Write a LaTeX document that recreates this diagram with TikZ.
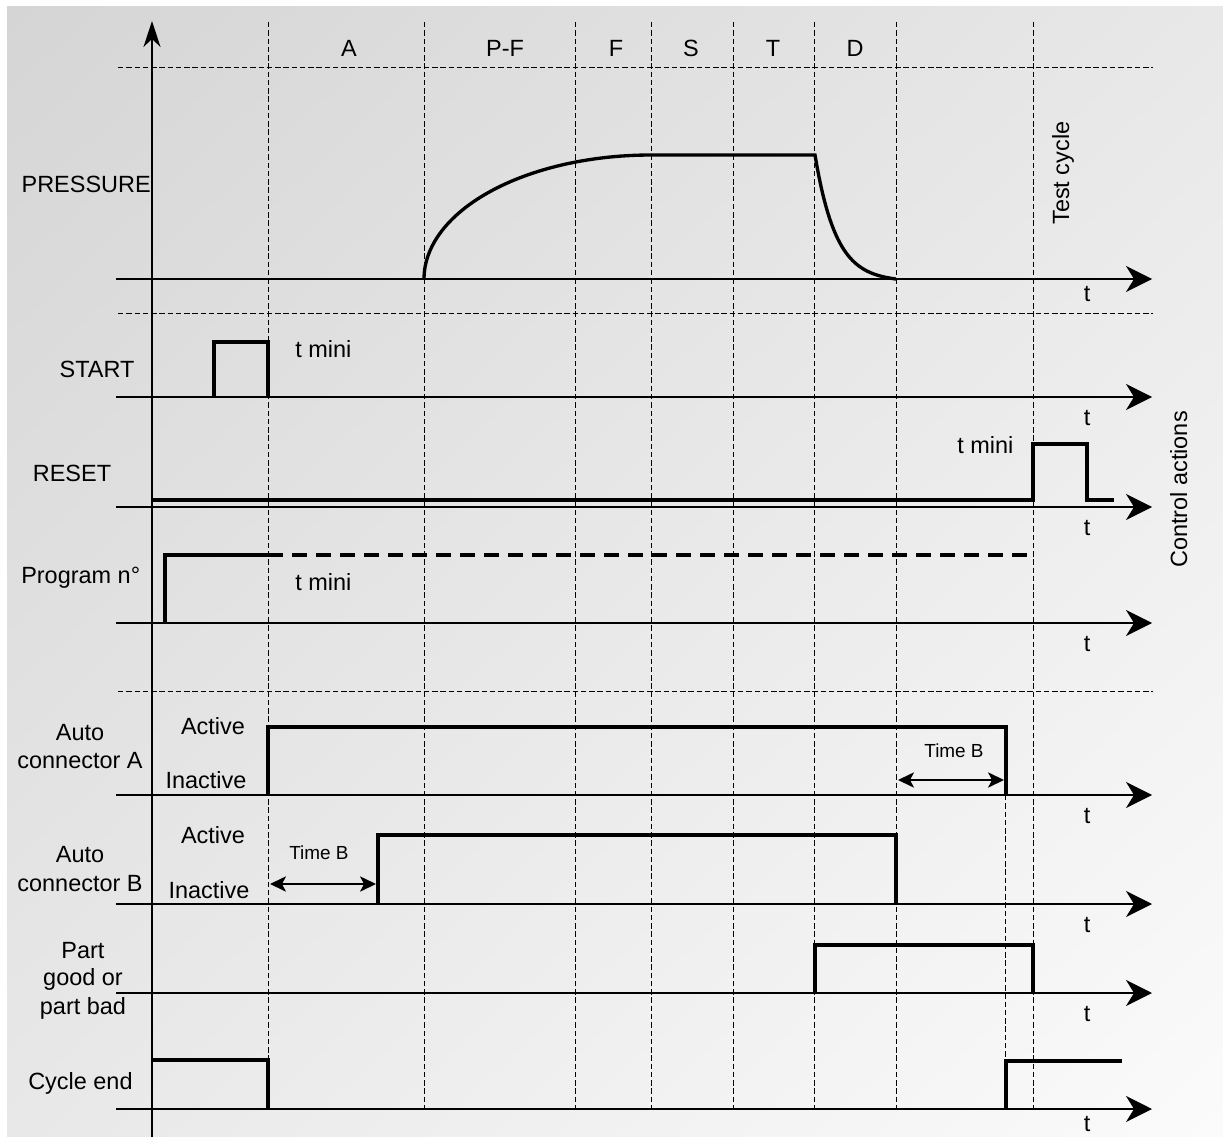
\documentclass[tikz,border=0pt]{standalone}
\usepackage{fontspec}
\setmainfont{Liberation Sans}
\usetikzlibrary{arrows.meta,shadings}
\definecolor{bgTL}{RGB}{213,213,213}
\definecolor{bgMid}{RGB}{232,232,232}
\definecolor{bgBR}{RGB}{251,251,251}
\begin{document}
\begin{tikzpicture}[x=0.75pt,y=-0.75pt,
  lbl/.style={inner sep=0pt, font=\fontsize{17.6}{20}\selectfont, anchor=base},
  smalllbl/.style={inner sep=0pt, font=\fontsize{14.2}{17}\selectfont, anchor=base},
  timeaxis/.style={line width=1.25pt, -{Stealth[length=19.5pt,width=19.5pt,inset=6pt]}},
  valaxis/.style={line width=1.25pt, -{Stealth[length=19.5pt,width=12.75pt,inset=6pt]}},
  gridline/.style={line width=0.75pt, dash pattern=on 4.1pt off 2.1pt},
  sig/.style={line width=2.5pt},
  sigdash/.style={line width=2.5pt, dash pattern=on 11.25pt off 6.75pt},
  span/.style={line width=1pt, {Stealth[length=12pt,width=11.5pt,inset=3pt]}-{Stealth[length=12pt,width=11.5pt,inset=3pt]}}
]
\useasboundingbox (0,0) rectangle (1223,1137);
\shade[upper left=bgTL, upper right=bgMid, lower left=bgMid, lower right=bgBR] (7,7) rectangle (1223,1137);

% horizontal grid lines
\foreach \y/\n in {68/ha,314/hb,691/hc}{
  \coordinate (\n-l) at (118,\y);
  \coordinate (\n-r) at (1153,\y);
  \draw[gridline] (\n-l) -- (\n-r);
}
% vertical grid lines
\foreach \x/\n in {268/va,424/vb,575/vc,651/vd,733/ve,814/vf,896/vg,1033/vh}{
  \coordinate (\n-t) at (\x,22);
  \coordinate (\n-b) at (\x,1109);
  \draw[gridline] (\n-t) -- (\n-b);
}
\coordinate (vi-t) at (1005,795);
\coordinate (vi-b) at (1005,1109);
\draw[gridline] (vi-t) -- (vi-b);

% value axis
\coordinate (yax-b) at (152,1137);
\coordinate (yax-t) at (152,21);
\draw[valaxis] (yax-b) -- (yax-t);

% time axes
\foreach \y/\n in {279/pr,397/st,507/rs,623/pg,795/aa,904/ab,993/pt,1109/ce}{
  \coordinate (\n-l) at (116,\y);
  \coordinate (\n-r) at (1152,\y);
  \draw[timeaxis] (\n-l) -- (\n-r);
}

% phase labels
\node[lbl] (phA) at (349,57) {A};
\node[lbl] (phPF) at (505,57) {P-F};
\node[lbl] (phF) at (616,57) {F};
\node[lbl] (phS) at (691,57) {S};
\node[lbl] (phT) at (773,57) {T};
\node[lbl] (phD) at (855,57) {D};

% t labels
\node[lbl] (tpr) at (1087,302) {t};
\node[lbl] (tst) at (1087,425) {t};
\node[lbl] (trs) at (1087,535) {t};
\node[lbl] (tpg) at (1087,651) {t};
\node[lbl] (taa) at (1087,823) {t};
\node[lbl] (tab) at (1087,932) {t};
\node[lbl] (tpt) at (1087,1021) {t};
\node[lbl] (tce) at (1087,1131) {t};

% side labels
\node[lbl, anchor=base east] (lpress) at (151,193) {PRESSURE};
\node[lbl] (lstart) at (97,377) {START};
\node[lbl] (lreset) at (72,481) {RESET};
\node[lbl, anchor=base west] (lprog) at (21,583) {Program n°};
\node[lbl] (lauA1) at (80,740) {Auto};
\node[lbl] (lauA2) at (80,768) {connector A};
\node[lbl] (lauB1) at (80,862) {Auto};
\node[lbl] (lauB2) at (80,891) {connector B};
\node[lbl] (lpart1) at (83,958) {Part};
\node[lbl] (lpart2) at (83,985) {good or};
\node[lbl] (lpart3) at (83,1014) {part bad};
\node[lbl, anchor=base west] (lcycle) at (28,1089) {Cycle end};

\node[lbl] (actA) at (213,734) {Active};
\node[lbl] (inaA) at (206,788) {Inactive};
\node[lbl] (actB) at (213,843) {Active};
\node[lbl] (inaB) at (209,898) {Inactive};

\node[lbl, anchor=base west] (tm1) at (295,357) {t mini};
\node[lbl, anchor=base west] (tm2) at (957,453) {t mini};
\node[lbl, anchor=base west] (tm3) at (295,590) {t mini};

\node[lbl, rotate=90, anchor=base west] (ltest) at (1069,225) {Test cycle};
\node[lbl, rotate=90, anchor=base west] (lctrl) at (1187,568) {Control actions};

\node[smalllbl] (tbB) at (319,859) {Time B};
\node[smalllbl] (tbA) at (954,757) {Time B};

% pressure curve
\draw[sig] plot[domain=180:270, samples=60, variable=\t] ({651+227*cos(\t)},{279+124*sin(\t)})
  -- (815,155)
  -- plot[domain=815:896, samples=40, variable=\u] (\u,{155+124*(1-exp(-(\u-815)/21))/0.9788});

% START
\draw[sig] (214,397) -- (214,342) -- (268,342) -- (268,397);
% RESET
\draw[sig] (152,500) -- (1033,500) -- (1033,444) -- (1087,444) -- (1087,500) -- (1114,500);
% Program
\draw[sig] (165,623) -- (165,555) -- (268,555);
\draw[sigdash] (268,555) -- (1033,555);
% Auto connector A
\draw[sig] (268,795) -- (268,727) -- (1006,727) -- (1006,795);
% Auto connector B
\draw[sig] (378,904) -- (378,835) -- (896,835) -- (896,904);
% Part good / bad
\draw[sig] (815,993) -- (815,945) -- (1033,945) -- (1033,993);
% Cycle end
\draw[sig] (152,1060) -- (268,1060) -- (268,1109);
\draw[sig] (1006,1109) -- (1006,1061) -- (1122,1061);

% Time B spans
\coordinate (sb-l) at (270,884);
\coordinate (sb-r) at (376,884);
\draw[span] (sb-l) -- (sb-r);
\coordinate (sa-l) at (898,780);
\coordinate (sa-r) at (1004,780);
\draw[span] (sa-l) -- (sa-r);
\end{tikzpicture}
\end{document}
